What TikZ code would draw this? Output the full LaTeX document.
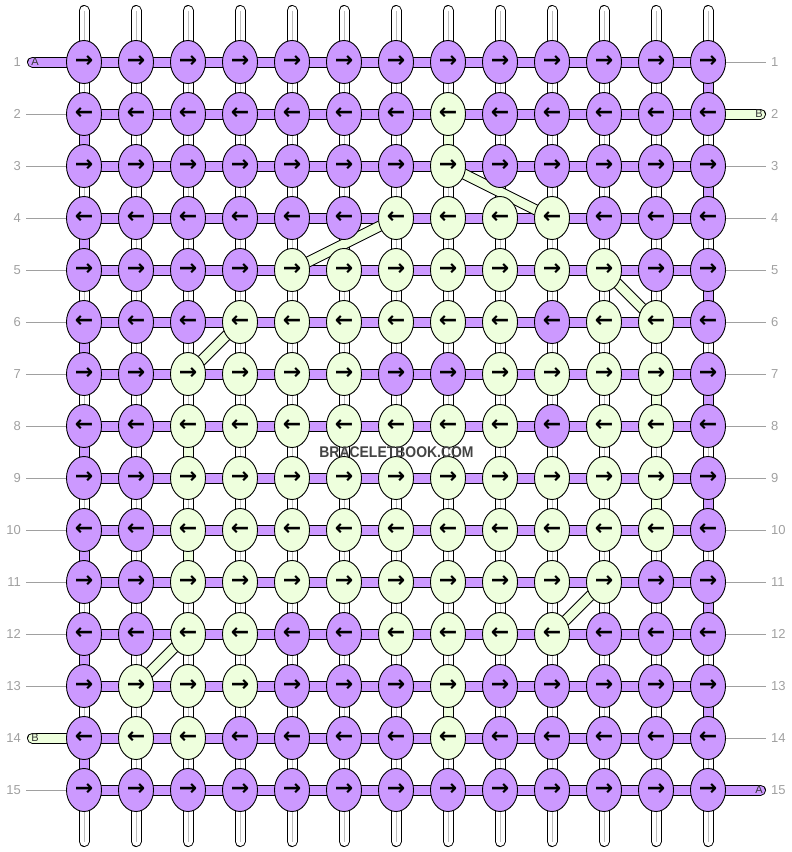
\documentclass[tikz,border=0pt]{standalone}
\usepackage{fontspec}
\setmainfont{Liberation Sans}
\newfontfamily\arrowfont{DejaVu Sans}
\usetikzlibrary{shapes.geometric}
\pgfdeclarelayer{background}
\pgfsetlayers{background,main}
\definecolor{kpurple}{HTML}{CC99FF}
\definecolor{kgreen}{HTML}{EEFFDD}
\definecolor{lblgray}{HTML}{A0A0A0}
\definecolor{strgray}{HTML}{BBBBBB}
\definecolor{wmgray}{HTML}{444444}
\makeatletter
\newcommand\greenlist{,2-8,3-8,4-7,4-8,4-9,4-10,5-5,5-6,5-7,5-8,5-9,5-10,5-11,6-4,6-5,6-6,6-7,6-8,6-9,6-11,6-12,7-3,7-4,7-5,7-6,7-9,7-10,7-11,7-12,8-3,8-4,8-5,8-6,8-7,8-8,8-9,8-11,8-12,9-3,9-4,9-5,9-6,9-7,9-8,9-9,9-10,9-11,9-12,10-3,10-4,10-5,10-6,10-7,10-8,10-9,10-10,10-11,10-12,11-3,11-4,11-5,11-6,11-7,11-8,11-9,11-10,11-11,12-3,12-4,12-7,12-8,12-9,12-10,13-2,13-3,13-4,13-8,14-2,14-3,14-8,}
\newcommand\setknotcolor[2]{\edef\kc@tmp{\noexpand\in@{,#1-#2,}{\greenlist}}\kc@tmp\ifin@\def\kcol{kgreen}\else\def\kcol{kpurple}\fi}
\makeatother
\begin{document}
\begin{tikzpicture}[x=1pt,y=-1pt,
  knot/.style={ellipse, draw=black, line width=0.9pt, minimum width=35pt, minimum height=43pt, inner sep=0pt, font=\arrowfont\bfseries\fontsize{22}{22}\selectfont},
  lbl/.style={inner xsep=5pt, inner ysep=0pt, text=lblgray, font=\fontsize{13}{13}\selectfont},
  lblline/.style={draw=lblgray, line width=0.8pt},
  strout/.style={draw=black, line width=11pt, line cap=round},
  strin/.style={draw=white, line width=9pt, line cap=round},
  strmid/.style={draw=strgray, line width=0.9pt},
  band/.style={draw=black, line width=1pt, double distance=9pt},
  pseg/.style={band, double=kpurple},
  gseg/.style={band, double=kgreen},
  pstub/.style={pseg, line cap=round},
  gstub/.style={gseg, line cap=round},
  stubl/.style={inner sep=0pt, text=black!80, font=\fontsize{11}{11}\selectfont},
  wm/.style={inner sep=0pt, text=wmgray, font=\bfseries\fontsize{15.5}{15.5}\selectfont}]
\useasboundingbox (0,0) rectangle (792,852);

% knots
\foreach \r in {1,...,15}{
  \foreach \c in {1,...,13}{
    \setknotcolor{\r}{\c}
    \pgfmathtruncatemacro\xx{32+52*\c}
    \pgfmathtruncatemacro\yy{10+52*\r}
    \ifodd\r \def\arr{→}\else \def\arr{←}\fi
    \node[knot, fill=\kcol] (k-\r-\c) at (\xx,\yy) {\arr};
  }
}

% row numbers
\foreach \r in {1,...,15}{
  \pgfmathtruncatemacro\yy{10+52*\r}
  \node[lbl, anchor=east] (L\r) at (26,\yy) {\r};
  \node[lbl, anchor=west] (R\r) at (766,\yy) {\r};
}
\foreach \r in {2,...,13,15} \draw[lblline] (L\r) -- (k-\r-1);
\foreach \r in {1,3,4,...,14} \draw[lblline] (k-\r-13) -- (R\r);

% stub ends
\coordinate (sL1) at (32.5,62);
\coordinate (sL14) at (32.5,738);
\coordinate (sR2) at (760.5,114);
\coordinate (sR15) at (760.5,790);

\begin{pgfonlayer}{background}
  % vertical strings
  \foreach \c in {1,...,13}{
    \pgfmathtruncatemacro\xx{32+52*\c}
    \coordinate (top\c) at (\xx,10.5);
    \coordinate (bot\c) at (\xx,841.5);
    \draw[strout] (top\c) -- (bot\c);
    \draw[strin] (top\c) -- (bot\c);
    \draw[strmid] (top\c) -- (bot\c);
  }
  % purple turns at the edges
  \foreach \r in {1,3,...,13}{
    \pgfmathtruncatemacro\rn{\r+1}
    \draw[pseg] (k-\r-13.center) -- (k-\rn-13.center);
  }
  \foreach \r in {2,4,...,14}{
    \pgfmathtruncatemacro\rn{\r+1}
    \draw[pseg] (k-\r-1.center) -- (k-\rn-1.center);
  }
  % green vertical passes
  \draw[gseg] (k-2-8.center) -- (k-3-8.center);
  \draw[gseg] (k-7-12.center) -- (k-8-12.center);
  \draw[gseg] (k-8-3.center) -- (k-9-3.center);
  \draw[gseg] (k-9-12.center) -- (k-10-12.center);
  \draw[gseg] (k-10-3.center) -- (k-11-3.center);
  \draw[gseg] (k-13-8.center) -- (k-14-8.center);
  % horizontal threads
  \foreach \r in {1,...,15}
    \draw[pseg] (k-\r-1.center) -- (k-\r-13.center);
  % stubs
  \draw[pstub] (sL1) -- (k-1-1.center);
  \draw[gstub] (sL14) -- (k-14-1.center);
  \draw[gstub] (sR2) -- (k-2-13.center);
  \draw[pstub] (sR15) -- (k-15-13.center);
  % diagonal green passes
  \draw[gseg] (k-3-8.center) -- (k-4-10.center);
  \draw[gseg] (k-4-7.center) -- (k-5-5.center);
  \draw[gseg] (k-5-11.center) -- (k-6-12.center);
  \draw[gseg] (k-6-4.center) -- (k-7-3.center);
  \draw[gseg] (k-11-11.center) -- (k-12-10.center);
  \draw[gseg] (k-12-3.center) -- (k-13-2.center);
\end{pgfonlayer}

% stub letters
\node[stubl] (tA1) at (35,62) {A};
\node[stubl] (tB14) at (35,738) {B};
\node[stubl] (tB2) at (759,114) {B};
\node[stubl] (tA15) at (759,790) {A};

% watermark
\node[wm] (wm) at (396.5,452) {\scalebox{0.9}[1]{BRACELETBOOK.COM}};
\end{tikzpicture}
\end{document}
